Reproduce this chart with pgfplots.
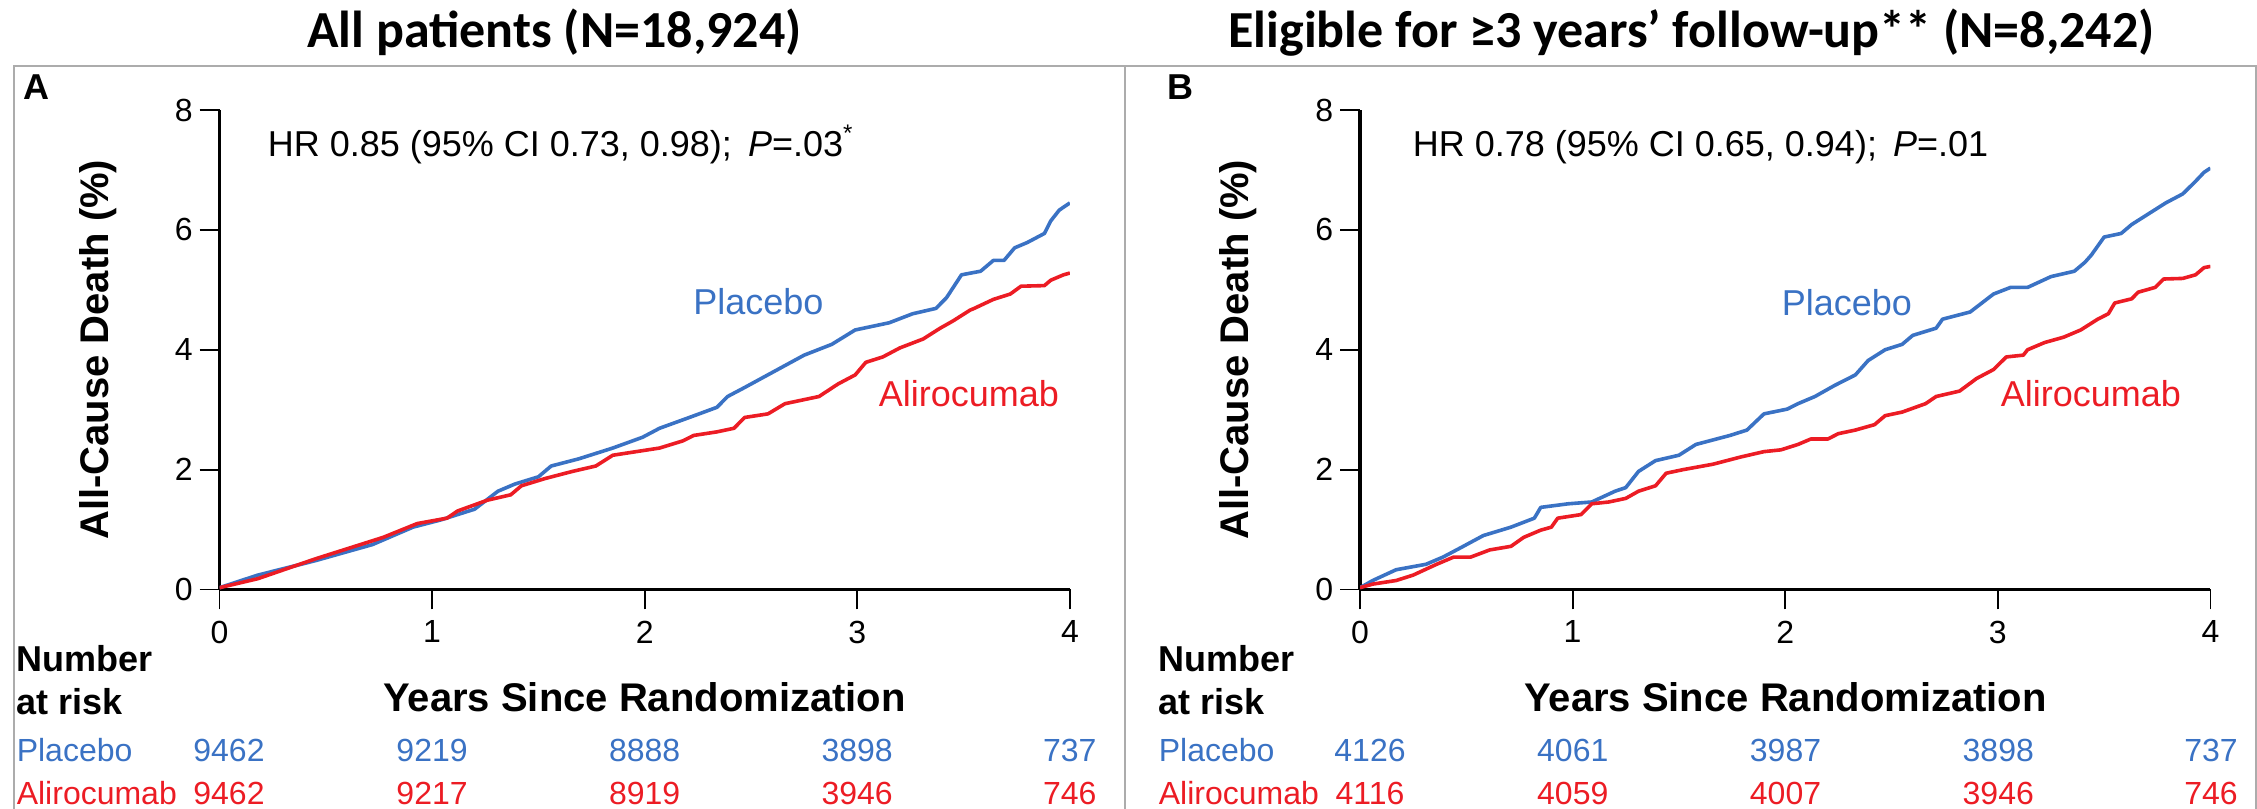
\documentclass[border=0pt]{standalone}
\usepackage{fontspec}
\setmainfont{Liberation Sans}
\newfontfamily\calibri{Carlito}
\usepackage{pgfplots}
\pgfplotsset{compat=1.18}
\definecolor{plac}{RGB}{58,114,196}
\definecolor{aliro}{RGB}{236,28,36}
\definecolor{framegray}{RGB}{172,172,172}

\pgfplotsset{kmaxis/.style={
  anchor=south west, scale only axis,
  width=212.6pt, height=119.875pt,
  xmin=0, xmax=4, ymin=0, ymax=8,
  axis lines*=left, axis line style={line width=0.8pt,-},
  xtick={0,1,2,3,4}, ytick={0,2,4,6,8},
  tick align=outside, major tick length=5pt,
  tick style={line width=0.45pt, black},
  ticklabel style={font=\fontsize{8}{9}\selectfont, inner sep=0pt},
  xticklabel style={yshift=-2.6pt},
  yticklabel style={xshift=-1.5pt},
  /pgf/number format/assume math mode=true,
  every axis plot/.append style={line width=0.9pt, line join=round},
}}

\pgfplotstableread{
x y
0 0.03
0.18 0.24
0.45 0.48
0.72 0.75
0.91 1.04
1.04 1.16
1.20 1.34
1.31 1.64
1.39 1.76
1.50 1.88
1.56 2.06
1.69 2.18
1.85 2.36
1.99 2.54
2.07 2.69
2.21 2.87
2.34 3.04
2.39 3.22
2.47 3.37
2.61 3.64
2.75 3.91
2.88 4.09
2.99 4.33
3.15 4.45
3.26 4.60
3.37 4.69
3.42 4.87
3.49 5.25
3.58 5.31
3.64 5.49
3.69 5.49
3.74 5.70
3.80 5.79
3.88 5.94
3.91 6.15
3.95 6.33
4.00 6.45
}\plA

\pgfplotstableread{
x y
0 0.03
0.18 0.18
0.45 0.51
0.77 0.87
0.93 1.10
1.07 1.19
1.12 1.31
1.26 1.49
1.37 1.58
1.42 1.73
1.53 1.85
1.66 1.97
1.77 2.06
1.85 2.24
2.07 2.36
2.18 2.48
2.23 2.57
2.34 2.63
2.42 2.69
2.47 2.87
2.58 2.93
2.66 3.10
2.82 3.22
2.91 3.43
2.99 3.58
3.04 3.79
3.12 3.88
3.20 4.03
3.31 4.18
3.39 4.36
3.45 4.48
3.53 4.66
3.55 4.69
3.64 4.84
3.72 4.93
3.77 5.06
3.88 5.07
3.91 5.16
3.97 5.25
4.00 5.28
}\alA

\pgfplotstableread{
x y
0 0.03
0.06 0.15
0.17 0.33
0.31 0.42
0.39 0.54
0.47 0.69
0.58 0.90
0.71 1.04
0.82 1.19
0.85 1.37
0.98 1.43
1.09 1.46
1.20 1.64
1.25 1.70
1.31 1.97
1.39 2.15
1.50 2.24
1.58 2.42
1.74 2.57
1.82 2.66
1.90 2.93
2.01 3.01
2.06 3.10
2.14 3.22
2.23 3.40
2.33 3.58
2.39 3.82
2.47 4.00
2.55 4.09
2.60 4.24
2.71 4.36
2.74 4.51
2.87 4.63
2.98 4.93
3.06 5.04
3.14 5.04
3.25 5.22
3.36 5.31
3.41 5.46
3.44 5.58
3.50 5.88
3.58 5.94
3.63 6.09
3.71 6.27
3.79 6.45
3.87 6.60
3.93 6.81
3.97 6.96
4.00 7.03
}\plB

\pgfplotstableread{
x y
0 0.03
0.06 0.09
0.17 0.15
0.25 0.24
0.36 0.42
0.44 0.54
0.52 0.54
0.61 0.66
0.71 0.72
0.77 0.87
0.85 0.99
0.90 1.04
0.93 1.19
1.04 1.25
1.09 1.43
1.17 1.46
1.25 1.52
1.31 1.64
1.39 1.73
1.44 1.94
1.52 2.00
1.66 2.09
1.79 2.21
1.90 2.30
1.98 2.33
2.06 2.42
2.12 2.51
2.20 2.51
2.25 2.60
2.33 2.66
2.42 2.75
2.47 2.90
2.55 2.96
2.66 3.10
2.71 3.22
2.82 3.31
2.90 3.52
2.98 3.67
3.04 3.88
3.12 3.91
3.14 4.00
3.22 4.12
3.31 4.21
3.39 4.33
3.47 4.51
3.52 4.60
3.55 4.78
3.63 4.85
3.66 4.96
3.74 5.04
3.78 5.18
3.87 5.19
3.93 5.25
3.97 5.37
4.00 5.39
}\alB

\begin{document}
\begin{tikzpicture}[x=0.25pt,y=-0.25pt]
\useasboundingbox (0,0) rectangle (2257,809);
% frames
\draw[framegray, line width=0.4pt] (14,809) -- (14,66) -- (2256,66) -- (2256,809);
\draw[framegray, line width=0.4pt] (1125,66) -- (1125,809);

% panel A
\begin{axis}[kmaxis, at={(54.875pt,-147.375pt)}]
\addplot[plac] table[x=x,y=y] {\plA};
\addplot[aliro] table[x=x,y=y] {\alA};
\end{axis}
% panel B
\begin{axis}[kmaxis, at={(340pt,-147.375pt)}]
\addplot[plac] table[x=x,y=y] {\plB};
\addplot[aliro] table[x=x,y=y] {\alB};
\end{axis}

% titles
\node[anchor=base, inner sep=0pt, font=\calibri\bfseries\fontsize{13}{15}\selectfont] at (554.5,48) {All patients (N=18,924)};
\node[anchor=base, inner sep=0pt, font=\calibri\bfseries\fontsize{13}{15}\selectfont] at (1691.5,48) {Eligible for ≥3 years’ follow-up** (N=8,242)};

% panel letters
\node[anchor=base west, inner sep=0pt, font=\bfseries\fontsize{9}{10}\selectfont] at (23,100) {A};
\node[anchor=base west, inner sep=0pt, font=\bfseries\fontsize{9}{10}\selectfont] at (1167,100) {B};

% HR texts
\node[anchor=base west, inner sep=0pt, font=\fontsize{9}{10}\selectfont] at (267,157) {HR 0.85 (95\% CI 0.73, 0.98);\, \textit{P}=.03\textsuperscript{*}};
\node[anchor=base west, inner sep=0pt, font=\fontsize{9}{10}\selectfont] at (1412,157) {HR 0.78 (95\% CI 0.65, 0.94);\, \textit{P}=.01};

% curve labels
\node[anchor=base west, inner sep=0pt, text=plac, font=\fontsize{9}{10}\selectfont] at (692.5,315) {Placebo};
\node[anchor=base west, inner sep=0pt, text=aliro, font=\fontsize{9}{10}\selectfont] at (878,407) {Alirocumab};
\node[anchor=base west, inner sep=0pt, text=plac, font=\fontsize{9}{10}\selectfont] at (1781,316) {Placebo};
\node[anchor=base west, inner sep=0pt, text=aliro, font=\fontsize{9}{10}\selectfont] at (2000,407) {Alirocumab};

% axis labels
\node[rotate=90, inner sep=0pt, font=\bfseries\fontsize{10}{12}\selectfont] at (98,349.75) {All-Cause Death (\%)};
\node[rotate=90, inner sep=0pt, font=\bfseries\fontsize{10}{12}\selectfont] at (1238.5,349.75) {All-Cause Death (\%)};
\node[anchor=base, inner sep=0pt, font=\bfseries\fontsize{10}{12}\selectfont] at (644.6,712) {Years Since Randomization};
\node[anchor=base, inner sep=0pt, font=\bfseries\fontsize{10}{12}\selectfont] at (1785.5,712) {Years Since Randomization};

% number at risk
\foreach \xo in {16,1158}{
  \node[anchor=base west, inner sep=0pt, font=\bfseries\fontsize{9}{10}\selectfont] at (\xo,672) {Number};
  \node[anchor=base west, inner sep=0pt, font=\bfseries\fontsize{9}{10}\selectfont] at (\xo,715) {at risk};
  \node[anchor=base west, inner sep=0pt, text=plac, font=\fontsize{8}{9}\selectfont] at (\xo,762) {Placebo};
  \node[anchor=base west, inner sep=0pt, text=aliro, font=\fontsize{8}{9}\selectfont] at (\xo,805) {Alirocumab};
}
\foreach \xp/\a/\b in {229/9462/9462, 432.05/9219/9217, 644.6/8888/8919, 857.15/3898/3946, 1069.7/737/746,
                        1370/4126/4116, 1572.75/4061/4059, 1785.5/3987/4007, 1998.25/3898/3946, 2211/737/746}{
  \node[anchor=base, inner sep=0pt, text=plac, font=\fontsize{8}{9}\selectfont] at (\xp,762) {\a};
  \node[anchor=base, inner sep=0pt, text=aliro, font=\fontsize{8}{9}\selectfont] at (\xp,805) {\b};
}
\end{tikzpicture}
\end{document}
